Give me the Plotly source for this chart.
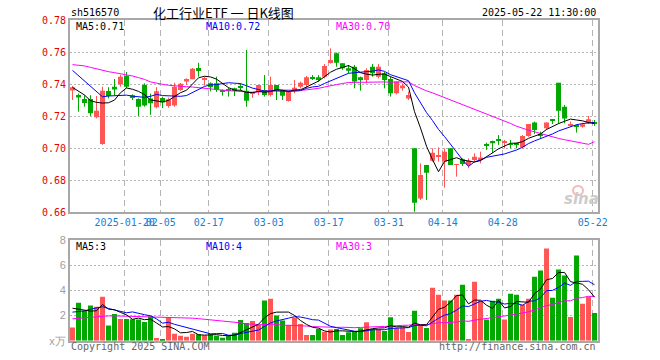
import plotly.graph_objects as go

# ---------------- data ----------------
dates = ["01-07","01-08","01-09","01-10","01-13","01-14","01-15","01-16","01-17","01-20",
         "01-21","01-22","01-23","01-24","01-27","02-05","02-06","02-07","02-10","02-11",
         "02-12","02-13","02-14","02-17","02-18","02-19","02-20","02-21","02-24","02-25",
         "02-26","02-27","02-28","03-03","03-04","03-05","03-06","03-07","03-10","03-11",
         "03-12","03-13","03-14","03-17","03-18","03-19","03-20","03-21","03-24","03-25",
         "03-26","03-27","03-28","03-31","04-01","04-02","04-03","04-07","04-08","04-09",
         "04-10","04-11","04-14","04-15","04-16","04-17","04-18","04-21","04-22","04-23",
         "04-24","04-25","04-28","04-29","04-30","05-06","05-07","05-08","05-09","05-12",
         "05-13","05-14","05-15","05-16","05-19","05-20","05-21","05-22"]

open_ = [0.7360,0.7331,0.7306,0.7306,0.7192,0.7025,0.7356,0.7383,0.7398,0.7452,
         0.7329,0.7306,0.7394,0.7310,0.7254,0.7313,0.7263,0.7265,0.7363,0.7415,
         0.7430,0.7500,0.7427,0.7404,0.7404,0.7363,0.7363,0.7373,0.7383,0.7358,
         0.7342,0.7352,0.7363,0.7331,0.7394,0.7358,0.7294,0.7358,0.7383,0.7394,
         0.7442,0.7442,0.7446,0.7531,0.7592,0.7529,0.7498,0.7508,0.7442,0.7425,
         0.7508,0.7446,0.7467,0.7431,0.7342,0.7373,0.7310,0.6998,0.6685,0.6894,
         0.6921,0.6944,0.6915,0.6998,0.6894,0.6929,0.6894,0.6925,0.6925,0.7025,
         0.7044,0.7050,0.7033,0.7025,0.7029,0.7004,0.7075,0.7160,0.7088,0.7123,
         0.7179,0.7408,0.7258,0.7138,0.7142,0.7133,0.7158,0.7163]
high = [0.7388,0.7340,0.7330,0.7330,0.7325,0.7383,0.7380,0.7431,0.7458,0.7475,
        0.7335,0.7310,0.7404,0.7340,0.7380,0.7320,0.7315,0.7408,0.7406,0.7435,
        0.7500,0.7533,0.7446,0.7410,0.7446,0.7365,0.7377,0.7377,0.7404,0.7613,
        0.7352,0.7394,0.7456,0.7446,0.7394,0.7363,0.7356,0.7425,0.7415,0.7450,
        0.7456,0.7456,0.7525,0.7623,0.7596,0.7530,0.7519,0.7519,0.7446,0.7498,
        0.7525,0.7525,0.7475,0.7446,0.7415,0.7404,0.7352,0.6998,0.6904,0.6894,
        0.6998,0.7004,0.6998,0.6998,0.6900,0.6935,0.6935,0.6967,0.6977,0.7033,
        0.7046,0.7081,0.7050,0.7050,0.7033,0.7081,0.7150,0.7165,0.7102,0.7160,
        0.7179,0.7408,0.7269,0.7165,0.7148,0.7158,0.7200,0.7175]
low = [0.7300,0.7227,0.7258,0.7200,0.7185,0.7020,0.7310,0.7331,0.7383,0.7373,
       0.7300,0.7200,0.7258,0.7208,0.7248,0.7250,0.7252,0.7258,0.7358,0.7396,
       0.7430,0.7446,0.7390,0.7354,0.7350,0.7327,0.7321,0.7325,0.7358,0.7258,
       0.7313,0.7331,0.7321,0.7321,0.7300,0.7300,0.7290,0.7342,0.7373,0.7373,
       0.7425,0.7415,0.7435,0.7527,0.7508,0.7488,0.7467,0.7373,0.7358,0.7404,
       0.7446,0.7435,0.7373,0.7321,0.7335,0.7358,0.7300,0.6602,0.6675,0.6675,
       0.6915,0.6915,0.6752,0.6894,0.6821,0.6888,0.6873,0.6915,0.6904,0.6988,
       0.6967,0.7019,0.6998,0.6998,0.6998,0.6998,0.7070,0.7088,0.7060,0.7113,
       0.7150,0.7154,0.7154,0.7133,0.7096,0.7127,0.7150,0.7138]
close = [0.7380,0.7315,0.7281,0.7217,0.7233,0.7358,0.7325,0.7365,0.7446,0.7383,
         0.7317,0.7258,0.7265,0.7279,0.7354,0.7285,0.7304,0.7383,0.7402,0.7431,
         0.7496,0.7481,0.7433,0.7380,0.7363,0.7352,0.7358,0.7356,0.7375,0.7296,
         0.7348,0.7394,0.7331,0.7394,0.7358,0.7327,0.7352,0.7377,0.7408,0.7442,
         0.7433,0.7431,0.7513,0.7550,0.7533,0.7498,0.7483,0.7415,0.7425,0.7488,
         0.7467,0.7508,0.7425,0.7342,0.7415,0.7390,0.7331,0.6658,0.6831,0.6846,
         0.6971,0.6954,0.6977,0.6894,0.6900,0.6900,0.6921,0.6946,0.6940,0.7013,
         0.7029,0.7046,0.7040,0.7019,0.7019,0.7075,0.7150,0.7113,0.7081,0.7160,
         0.7175,0.7233,0.7185,0.7150,0.7133,0.7148,0.7179,0.7154]
volume = [1.04,3.01,2.37,2.80,2.69,3.49,1.20,2.13,1.73,1.73,
          1.71,1.68,1.49,1.95,0.21,0.13,1.84,0.56,0.40,0.32,
          0.56,0.51,0.43,0.51,0.40,0.24,0.40,0.64,1.65,1.41,
          1.57,1.25,3.20,3.33,2.00,1.60,1.25,1.84,1.33,0.45,
          0.45,0.93,0.72,0.88,0.93,0.45,0.67,0.72,0.99,1.47,
          0.93,0.93,0.77,1.87,0.99,1.04,0.69,2.37,1.23,1.01,
          4.21,3.65,3.20,3.20,3.65,4.45,0.13,4.69,3.15,1.68,
          3.17,3.33,1.68,3.73,3.65,2.88,3.33,5.09,5.57,7.33,
          3.41,5.65,5.17,1.89,6.77,2.93,3.49,2.21]

# moving-average values at the left edge (their windows start before the visible range)
ma5_head = [0.7379,0.7356,0.7331,0.7296]
ma10_head = [0.7485,0.7452,0.7420,0.7390,0.7355,0.7320,0.7325,0.7328,0.7330]
ma30_head = [0.7521,0.7519,0.7513,0.7504,0.7494,0.7483,0.7477,0.7471,0.7465,0.7458,
             0.7450,0.7440,0.7429,0.7413,0.7404,0.7398,0.7392,0.7388,0.7385,0.7383,
             0.7381,0.7377,0.7371,0.7367,0.7363,0.7360,0.7358,0.7356,0.7354]
vma5_head = [2.58,2.50,2.40,2.35]
vma10_head = [2.27,2.32,2.37,2.50,2.60,2.70,2.55,2.45,2.35]
vma30_head = [1.74,1.78,1.82,1.86,1.90,1.95,1.97,1.97,1.96,1.95,
              1.94,1.93,1.92,1.91,1.90,1.89,1.88,1.86,1.84,1.82,
              1.79,1.75,1.71,1.67,1.63,1.59,1.55,1.50,1.42]

tick_dates = ["01-20","02-05","02-17","03-03","03-17","03-31","04-14","04-28","05-22"]
tick_text = ["2025-01-20","02-05","02-17","03-03","03-17","03-31","04-14","04-28","05-22"]
price_ticks = [0.66,0.68,0.70,0.72,0.74,0.76,0.78]
vol_ticks = [0,2,4,6,8]
vol_tick_text = ["x万","2","4","6","8"]

title = "化工行业ETF 一 日K线图"
code = "sh516570"
stamp = "2025-05-22 11:30:00"
ma_labels = ["MA5:0.71","MA10:0.72","MA30:0.70"]
vma_labels = ["MA5:3","MA10:4","MA30:3"]

# ---------------- helpers ----------------
W, H = 660, 360
RED, GREEN = "#ff5555", "#00a800"
n = len(dates)
xs = list(range(n))

def sma(vals, w, head):
    out = []
    for i in range(n):
        if i < len(head):
            out.append(head[i])
        else:
            out.append(sum(vals[i - w + 1:i + 1]) / w)
    return out

ma5, ma10, ma30 = sma(close, 5, ma5_head), sma(close, 10, ma10_head), sma(close, 30, ma30_head)
vma5, vma10, vma30 = sma(volume, 5, vma5_head), sma(volume, 10, vma10_head), sma(volume, 30, vma30_head)

up = [close[i] >= open_[i] for i in range(n)]

def px(x):
    return x / W

def py(y):
    return 1 - y / H

fig = go.Figure()

# wicks
for flag, col in ((True, RED), (False, GREEN)):
    wx, wy = [], []
    for i in range(n):
        if up[i] == flag:
            wx += [xs[i], xs[i], None]
            wy += [low[i], high[i], None]
    fig.add_trace(go.Scatter(x=wx, y=wy, mode="lines", line=dict(color=col, width=1),
                             hoverinfo="skip", showlegend=False, xaxis="x", yaxis="y"))

# bodies
MINH = 0.0006
for flag, col in ((True, RED), (False, GREEN)):
    bx, bb, bh = [], [], []
    for i in range(n):
        if up[i] == flag:
            lo_, hi_ = min(open_[i], close[i]), max(open_[i], close[i])
            h = max(hi_ - lo_, MINH)
            bx.append(xs[i]); bb.append((lo_ + hi_) / 2 - h / 2); bh.append(h)
    fig.add_trace(go.Bar(x=bx, y=bh, base=bb, width=0.83, marker=dict(color=col, line=dict(width=0)),
                         showlegend=False, xaxis="x", yaxis="y"))

# price MAs
for vals, col in ((ma30, "#ff00ff"), (ma10, "#0000ff"), (ma5, "#000000")):
    fig.add_trace(go.Scatter(x=xs, y=vals, mode="lines", line=dict(color=col, width=1),
                             showlegend=False, xaxis="x", yaxis="y"))

# volume bars
for flag, col in ((True, RED), (False, GREEN)):
    vx = [xs[i] for i in range(n) if up[i] == flag]
    vy = [volume[i] for i in range(n) if up[i] == flag]
    fig.add_trace(go.Bar(x=vx, y=vy, width=0.83, marker=dict(color=col, line=dict(width=0)),
                         showlegend=False, xaxis="x2", yaxis="y2"))

for vals, col in ((vma30, "#ff00ff"), (vma10, "#0000ff"), (vma5, "#000000")):
    fig.add_trace(go.Scatter(x=xs, y=vals, mode="lines", line=dict(color=col, width=1),
                             showlegend=False, xaxis="x2", yaxis="y2"))

tickpos = [dates.index(d) - 0.3 for d in tick_dates]
xr = [-0.417, 87.53]
FRAME = "#a8a8a8"
GRID = "#b4b4b4"
MONO = "DejaVu Sans Mono"

common_x = dict(range=xr, tickvals=tickpos, showgrid=True, gridcolor=GRID, griddash="6px,4px",
                gridwidth=1, showline=True, linecolor=FRAME, linewidth=2, mirror=True,
                zeroline=False, fixedrange=True, automargin=False, tickangle=0)

common_y = dict(showgrid=True, gridcolor=GRID, griddash="2px,2px", showline=True,
                linecolor=FRAME, linewidth=2, mirror=True, zeroline=False, fixedrange=True,
                automargin=False, ticks="", ticklen=0)

fig.update_layout(
    width=W, height=H, margin=dict(l=0, r=0, t=0, b=0, autoexpand=False),
    paper_bgcolor="white", plot_bgcolor="white", barmode="overlay", showlegend=False,
    xaxis=dict(domain=[px(70), px(597.7)], anchor="y", ticktext=tick_text, ticks="",
               ticklen=0, tickfont=dict(family=MONO, size=10, color="#1a80d4"), **common_x),
    xaxis2=dict(domain=[px(70), px(597.7)], anchor="y2", showticklabels=False, **common_x),
    yaxis=dict(domain=[py(212), py(20)], range=[0.66, 0.78], tickvals=price_ticks,
               tickformat=".2f", tickfont=dict(family=MONO, size=10, color="#e60000"), **common_y),
    yaxis2=dict(domain=[py(340.7), py(240)], range=[0, 8], tickvals=vol_ticks, ticktext=vol_tick_text,
                tickfont=dict(family="Liberation Sans", size=11, color="#a0a0a0"), **common_y),
)

def txt(x, y, s, color="#000", size=10, family=MONO, anchor="left", **kw):
    fig.add_annotation(x=px(x), y=py(y), xref="paper", yref="paper", text=s, showarrow=False,
                       xanchor=anchor, yanchor="middle",
                       font=dict(family=family, size=size, color=color), **kw)

txt(223, 13, title, size=13, family="Noto Sans CJK SC", anchor="center")
txt(69, 13, code)
txt(598, 13, stamp, anchor="right")
txt(74, 26.5, ma_labels[0], color="#000000")
txt(204, 26.5, ma_labels[1], color="#0000ff")
txt(334, 26.5, ma_labels[2], color="#ff00ff")
txt(74, 246.5, vma_labels[0], color="#000000")
txt(204, 246.5, vma_labels[1], color="#0000ff")
txt(334, 246.5, vma_labels[2], color="#ff00ff")
txt(69, 346, "Copyright 2025 SINA.COM", color="#666666")
txt(598, 346, "http://finance.sina.com.cn", color="#666666", anchor="right")
# sina watermark
txt(581, 199, "<b><i>sina</i></b>", color="#cccccc", size=15, family="DejaVu Sans", anchor="center")
fig.add_shape(type="circle", xref="paper", yref="paper", x0=px(573), x1=px(583), y0=py(195), y1=py(186),
              line=dict(color="#f2bcbc", width=2), fillcolor="rgba(0,0,0,0)")

fig.write_html("out.html", config={"displayModeBar": False},
               post_script="document.body.style.margin='0';")
